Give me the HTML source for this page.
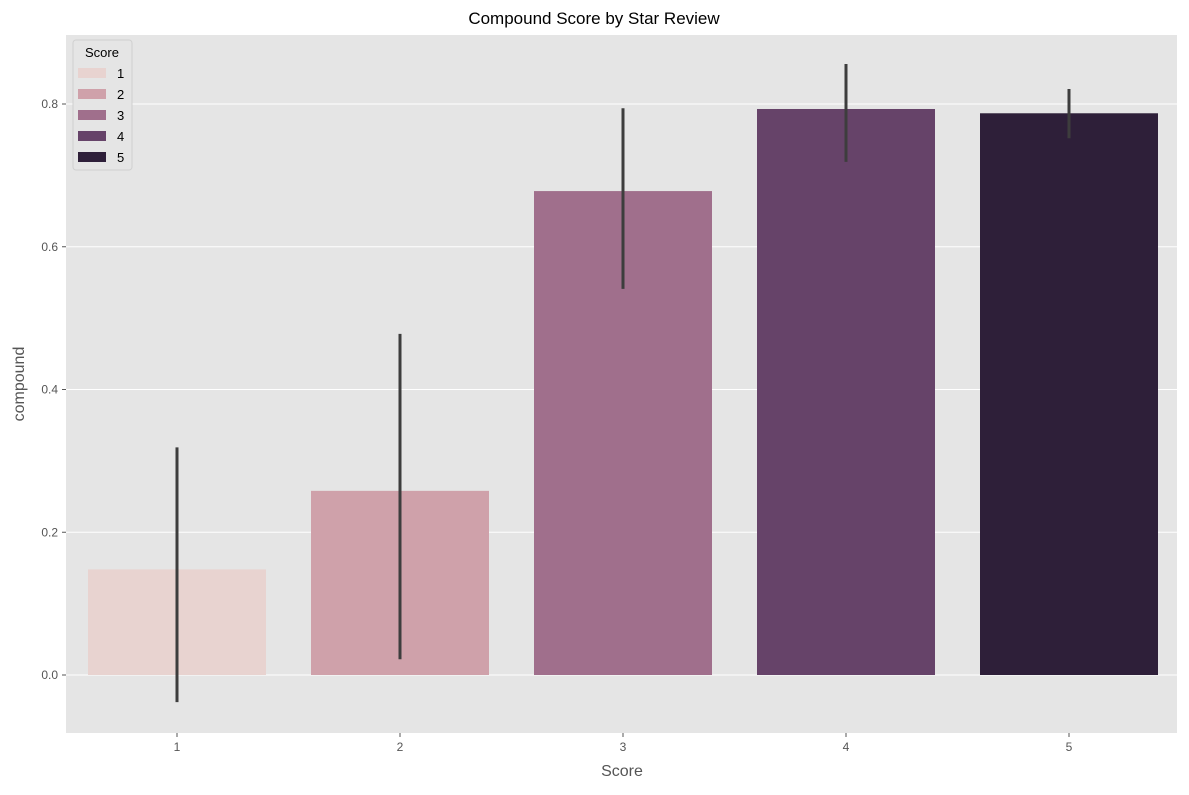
<!DOCTYPE html>
<html><head><meta charset="utf-8"><style>
body{margin:0;background:#fff;font-family:"Liberation Sans",sans-serif}
</style></head><body>
<svg id="chart" width="1189" height="790" xmlns="http://www.w3.org/2000/svg">
<rect x="66" y="35" width="1111" height="698" fill="#e5e5e5"/>
<g id="grid"></g><g id="bars"></g><g id="errs"></g><g id="axes"></g>
<text x="594" y="24" text-anchor="middle" font-size="17" fill="#000">Compound Score by Star Review</text>
<text x="622" y="776" text-anchor="middle" font-size="16" fill="#555">Score</text>
<text transform="translate(24,384) rotate(-90)" text-anchor="middle" font-size="16" fill="#555">compound</text>
<g id="legend">
<rect x="73" y="40" width="59" height="130" rx="3" fill="#e5e5e5" stroke="#d0d0d0"/>
<text x="102" y="57" text-anchor="middle" font-size="13" fill="#000">Score</text>
</g>
</svg>
<script>
const categories=["1","2","3","4","5"];
const means=[0.148,0.258,0.678,0.793,0.787];
const ciLow=[-0.038,0.022,0.541,0.719,0.752];
const ciHigh=[0.319,0.478,0.794,0.856,0.821];
const colors=["#e8d3d0","#cfa1aa","#a06f8c","#664369","#2e1f39"];
const yTicks=[0,0.2,0.4,0.6,0.8];
const yTickLabels=["0.0","0.2","0.4","0.6","0.8"];
const NS="http://www.w3.org/2000/svg";
const y=v=>675-v*713.75;
const xc=i=>177+i*223;
const bw=178;
function mk(t,a,p){const e=document.createElementNS(NS,t);for(const k in a)e.setAttribute(k,a[k]);document.getElementById(p).appendChild(e);return e;}
yTicks.forEach((v,i)=>{
 const g=mk('line',{x1:66,x2:1177,y1:y(v),y2:y(v),stroke:'#fff','stroke-width':1},'grid');
 
 
 const tk=mk('line',{x1:62,x2:66,y1:y(v),y2:y(v),stroke:'#555'},'axes');
 
 
 const t=mk('text',{x:58,y:y(v)+4,'text-anchor':'end','font-size':12,fill:'#555'},'axes');
 t.textContent=yTickLabels[i];
 
 
});
categories.forEach((c,i)=>{
 const top=Math.min(y(means[i]),y(0)),h=Math.abs(y(means[i])-y(0));
 const r=mk('rect',{x:xc(i)-bw/2,y:top,width:bw,height:h,fill:colors[i]},'bars');
 
 
 const l=mk('line',{x1:xc(i),x2:xc(i),y1:y(ciLow[i]),y2:y(ciHigh[i]),stroke:'#3d3d3d','stroke-width':3},'errs');
 
 
 const tk=mk('line',{x1:xc(i),x2:xc(i),y1:733,y2:737,stroke:'#555'},'axes');
 
 
 const t=mk('text',{x:xc(i),y:751,'text-anchor':'middle','font-size':12,fill:'#555'},'axes');
 t.textContent=c;
 
 
 const ls=mk('rect',{x:78,y:68+i*21,width:28,height:10,fill:colors[i]},'legend');
 
 
 const lt=mk('text',{x:117,y:78+i*21,'font-size':13,fill:'#000'},'legend');
 lt.textContent=c;
 
 
});
</script>
</body></html>
